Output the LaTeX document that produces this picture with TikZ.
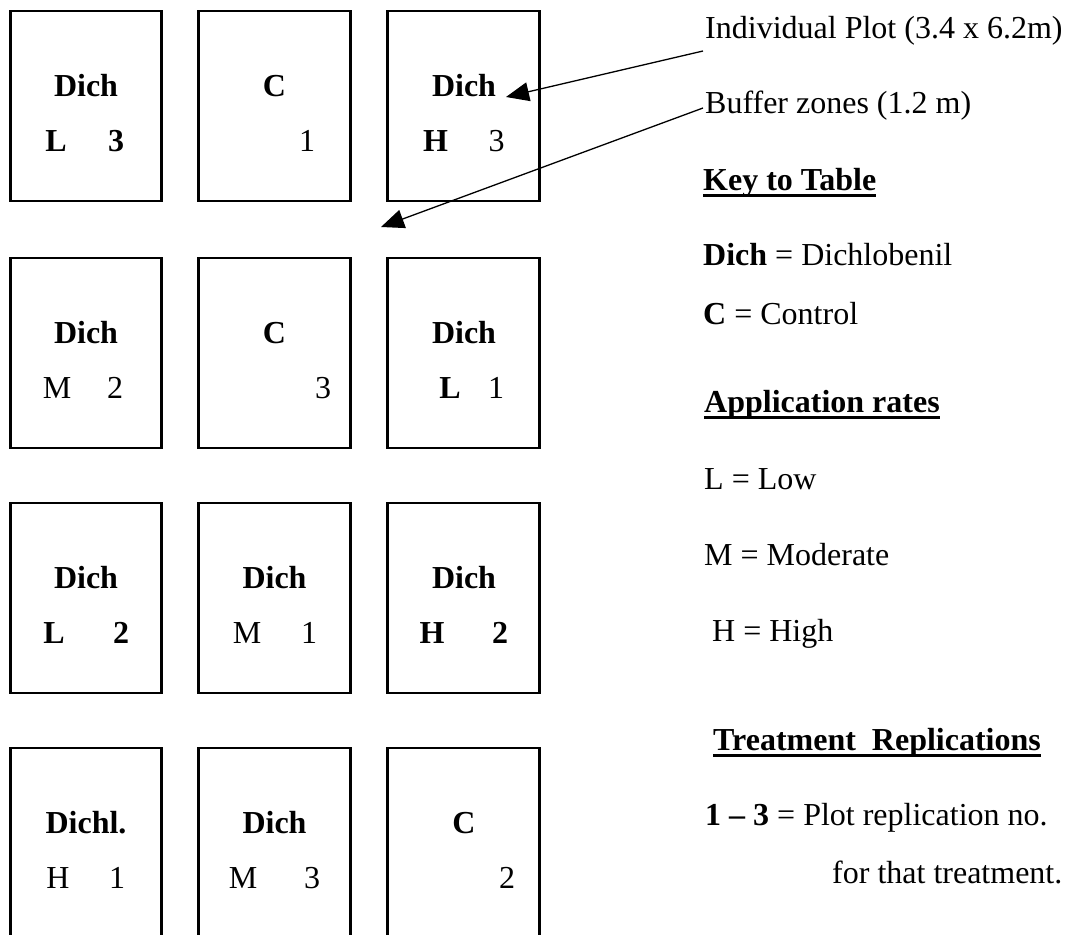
\documentclass[tikz,border=0pt]{standalone}
\usepackage{fontspec}
\setmainfont{Liberation Serif}
\usetikzlibrary{arrows.meta}
\begin{document}
\begin{tikzpicture}[x=1pt,y=-1pt,
  font=\fontsize{32}{38}\selectfont,
  plotbox/.style={draw, line width=2.7pt, minimum width=151.5pt, minimum height=190pt,
                  inner sep=0pt, outer sep=0pt},
  lbl/.style={anchor=base, inner sep=0pt},
  keytext/.style={anchor=base west, inner sep=0pt},
  ul/.style={line width=2.6pt},
  pointer/.style={line width=1.3pt, -{Triangle[length=23pt,width=19pt]}}]

% page frame
\useasboundingbox (0,0) rectangle (1065,934);

% ---- field layout: 4 rows x 3 plots ----
% row 1
\node[plotbox] (p11) at (86,106) {};
\node[plotbox] (p12) at (274.5,106) {};
\node[plotbox] (p13) at (463.5,106) {};
% row 2
\node[plotbox] (p21) at (86,353) {};
\node[plotbox] (p22) at (274.5,353) {};
\node[plotbox] (p23) at (463.5,353) {};
% row 3
\node[plotbox] (p31) at (86,598) {};
\node[plotbox] (p32) at (274.5,598) {};
\node[plotbox] (p33) at (463.5,598) {};
% row 4
\node[plotbox] (p41) at (86,843) {};
\node[plotbox] (p42) at (274.5,843) {};
\node[plotbox] (p43) at (463.5,843) {};

% ---- plot labels ----
% row 1
\node[lbl] (t11) at (86,96) {\textbf{Dich}};
\node[lbl] (r11) at (56,151) {\textbf{L}};
\node[lbl] (n11) at (116,151) {\textbf{3}};
\node[lbl] (t12) at (274.5,96) {\textbf{C}};
\node[lbl] (n12) at (307,151) {1};
\node[lbl] (t13) at (464,96) {\textbf{Dich}};
\node[lbl] (r13) at (435.5,151) {\textbf{H}};
\node[lbl] (n13) at (496.5,151) {3};
% row 2
\node[lbl] (t21) at (86,343) {\textbf{Dich}};
\node[lbl] (r21) at (57,398) {M};
\node[lbl] (n21) at (115,398) {2};
\node[lbl] (t22) at (274.5,343) {\textbf{C}};
\node[lbl] (n22) at (323,398) {3};
\node[lbl] (t23) at (464,343) {\textbf{Dich}};
\node[lbl] (r23) at (450,398) {\textbf{L}};
\node[lbl] (n23) at (496,398) {1};
% row 3
\node[lbl] (t31) at (86,588) {\textbf{Dich}};
\node[lbl] (r31) at (54,643) {\textbf{L}};
\node[lbl] (n31) at (121,643) {\textbf{2}};
\node[lbl] (t32) at (274.5,588) {\textbf{Dich}};
\node[lbl] (r32) at (247,643) {M};
\node[lbl] (n32) at (309,643) {1};
\node[lbl] (t33) at (464,588) {\textbf{Dich}};
\node[lbl] (r33) at (432,643) {\textbf{H}};
\node[lbl] (n33) at (500,643) {\textbf{2}};
% row 4
\node[lbl] (t41) at (86,833) {\textbf{Dichl.}};
\node[lbl] (r41) at (58,888) {H};
\node[lbl] (n41) at (117,888) {1};
\node[lbl] (t42) at (274.5,833) {\textbf{Dich}};
\node[lbl] (r42) at (243,888) {M};
\node[lbl] (n42) at (312,888) {3};
\node[lbl] (t43) at (464,833) {\textbf{C}};
\node[lbl] (n43) at (507,888) {2};

% ---- callouts ----
\node[keytext] (ind) at (705,39) {Individual Plot (3.4 x 6.2m)};
\node[keytext] (buf) at (705,113) {Buffer zones (1.2 m)};
\coordinate (tipA) at (506,97);
\coordinate (tipB) at (381,227);
\draw[pointer] ([shift={(-2pt,-12pt)}]ind.base west) -- (tipA);
\draw[pointer] ([shift={(-2pt,5pt)}]buf.base west) -- (tipB);

% ---- key ----
\node[keytext] (keyhead) at (703,190) {\textbf{Key to Table}};
\draw[ul] ([yshift=-5.5pt]keyhead.base west) -- ([yshift=-5.5pt]keyhead.base east);
\node[keytext] (kdich) at (703,265) {\textbf{Dich} = Dichlobenil};
\node[keytext] (kc) at (703,324) {\textbf{C} = Control};

\node[keytext] (apphead) at (704,412) {\textbf{Application rates}};
\draw[ul] ([yshift=-5.5pt]apphead.base west) -- ([yshift=-5.5pt]apphead.base east);
\node[keytext] (klow) at (704,489) {L = Low};
\node[keytext] (kmod) at (704,565) {M = Moderate};
\node[keytext] (khigh) at (712,641) {H = High};

\node[keytext] (rephead) at (713,750) {\textbf{Treatment~~Replications}};
\draw[ul] ([yshift=-5.5pt]rephead.base west) -- ([yshift=-5.5pt]rephead.base east);
\node[keytext] (krep) at (705,825) {\textbf{1 – 3} = Plot replication no.};
\node[keytext] (krep2) at (832,883) {for that treatment.};
\end{tikzpicture}
\end{document}
